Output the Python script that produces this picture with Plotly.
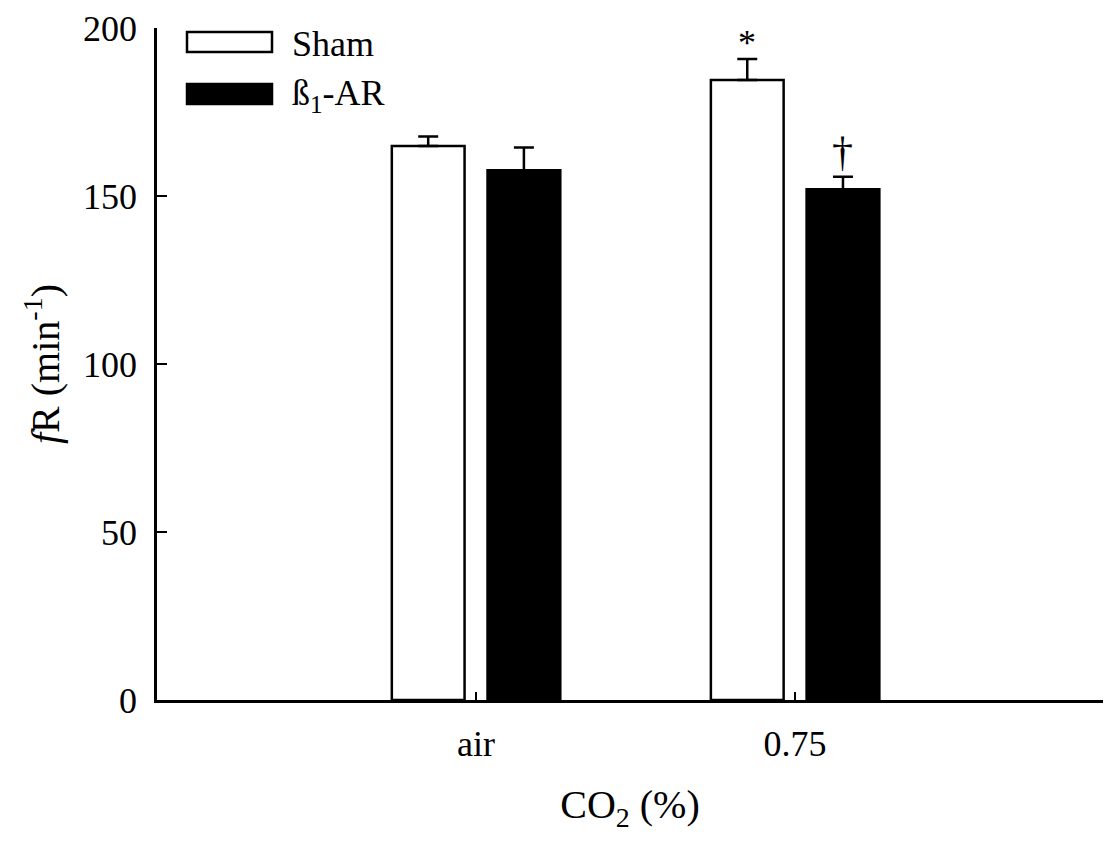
import plotly.graph_objects as go

categories = ["air", "0.75"]
series_names = ["Sham", "ß<sub>1</sub>-AR"]
sham_mean = [164.9, 184.5]
sham_err = [2.8, 6.3]
b1_mean = [157.7, 152.0]
b1_err = [6.7, 3.7]
y_ticks = [0, 50, 100, 150, 200]
markers_text = ["", "*"]      # above Sham bars
markers_text_b1 = ["", "†"]   # above ß1-AR bars

FONT = "Liberation Serif, Times New Roman, serif"
BW = 0.228
OFF = 0.15
idx = list(range(len(categories)))

fig = go.Figure()
fig.add_trace(go.Bar(
    x=[i - OFF for i in idx], y=sham_mean, width=BW, name=series_names[0],
    marker=dict(color="white", line=dict(color="black", width=2.5)),
    error_y=dict(type="data", array=sham_err, arrayminus=[0]*len(idx), symmetric=False,
                 color="black", thickness=2.5, width=10),
    showlegend=False,
))
fig.add_trace(go.Bar(
    x=[i + OFF for i in idx], y=b1_mean, width=BW, name=series_names[1],
    marker=dict(color="black", line=dict(color="black", width=2.5)),
    error_y=dict(type="data", array=b1_err, arrayminus=[0]*len(idx), symmetric=False,
                 color="black", thickness=2.5, width=10),
    showlegend=False,
))

# significance markers
for i in idx:
    if markers_text[i]:
        fig.add_annotation(x=i - OFF, y=sham_mean[i] + sham_err[i], text=markers_text[i],
                           showarrow=False, yanchor="bottom", yshift=-6,
                           font=dict(family=FONT, size=36, color="black"))
    if markers_text_b1[i]:
        fig.add_annotation(x=i + OFF, y=b1_mean[i] + b1_err[i], text=markers_text_b1[i],
                           showarrow=False, yanchor="bottom", yshift=0,
                           font=dict(family=FONT, size=42, color="black"))

# legend drawn manually
leg = [("white", series_names[0], 0.0), ("black", series_names[1], 52)]
for color, name, dy in leg:
    fig.add_shape(type="rect", xref="paper", yref="paper",
                  x0=(187 - 157) / 946, x1=(272 - 157) / 946,
                  y0=1 - (52 + dy - 28) / 672, y1=1 - (32 + dy - 28) / 672,
                  fillcolor=color, line=dict(color="black", width=2.5))
    fig.add_annotation(xref="paper", yref="paper", x=(290 - 157) / 946,
                       y=1 - (44 + dy - 28) / 672, text=name, showarrow=False,
                       xanchor="left", yanchor="middle",
                       font=dict(family=FONT, size=36, color="black"))

fig.update_layout(
    width=1107, height=841,
    margin=dict(l=157, r=4, t=28, b=141),
    plot_bgcolor="white", paper_bgcolor="white",
    font=dict(family=FONT, size=36, color="black"),
    barmode="overlay",
    xaxis=dict(range=[-1.0, 1.965], tickvals=idx, ticktext=categories,
               ticks="inside", ticklen=8, tickwidth=2, tickcolor="black",
               showline=True, linecolor="black", linewidth=2.5, showgrid=False,
               zeroline=False, tickfont=dict(size=36), ticklabelstandoff=10,
               title=dict(text="CO<sub>2</sub> (%)", font=dict(size=40), standoff=28)),
    yaxis=dict(range=[0, 200], tickvals=y_ticks, ticks="inside", ticklen=10,
               tickwidth=2, tickcolor="black", showline=True, linecolor="black",
               linewidth=2.5, showgrid=False, zeroline=False, tickfont=dict(size=36),
               ticklabelstandoff=10,
               title=dict(text="<i>f</i>R (min<sup>-1</sup>)", font=dict(size=40), standoff=12)),
)

fig.write_html("out.html", config={"displayModeBar": False},
               post_script="document.body.style.margin='0';document.body.style.overflow='hidden';")
